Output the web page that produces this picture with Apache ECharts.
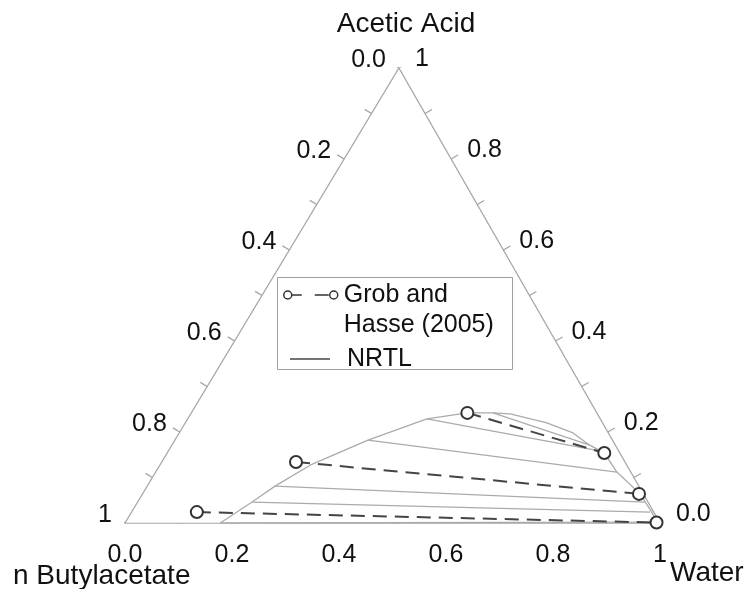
<!DOCTYPE html>
<html>
<head>
<meta charset="utf-8">
<script src="https://cdn.jsdelivr.net/npm/echarts@6/dist/echarts.min.js"></script>
<style>
html,body{margin:0;padding:0;background:#fff;}
#main{width:748px;height:589px;}
</style>
</head>
<body>
<div id="main"></div>
<script>
// ---------- data (ternary compositions: water fraction w, acetic acid fraction a) ----------
const tickValues = [0, 0.1, 0.2, 0.3, 0.4, 0.5, 0.6, 0.7, 0.8, 0.9, 1];
const labelValues = [0, 0.2, 0.4, 0.6, 0.8, 1];
const labelTexts = ['0.0', '0.2', '0.4', '0.6', '0.8', '1'];
const vertexNames = ['n Butylacetate', 'Water', 'Acetic Acid'];
const seriesNames = ['Grob and Hasse (2005)', 'NRTL'];

// experimental tie lines (Grob and Hasse 2005): organic end (left) and aqueous end (right)
const expLeftW  = [0.122, 0.251, 0.516];
const expLeftA  = [0.024, 0.134, 0.242];
const expRightW = [0.993, 0.928, 0.817];
const expRightA = [0.001, 0.064, 0.154];

// NRTL binodal curve
const binodalW = [0.178, 0.214, 0.239, 0.281, 0.361, 0.447, 0.516, 0.564, 0.597, 0.676, 0.736, 0.781, 0.817, 0.862, 0.930, 0.967, 0.996];
const binodalA = [0.000, 0.046, 0.081, 0.127, 0.182, 0.229, 0.242, 0.242, 0.240, 0.220, 0.198, 0.171, 0.154, 0.112, 0.064, 0.029, 0.000];

// NRTL tie lines
const tieLeftW  = [0.178, 0.214, 0.239, 0.361, 0.447, 0.564];
const tieLeftA  = [0.000, 0.046, 0.081, 0.182, 0.229, 0.242];
const tieRightW = [0.994, 0.969, 0.948, 0.862, 0.814, 0.781];
const tieRightA = [0.002, 0.024, 0.046, 0.112, 0.157, 0.171];

// ---------- geometry ----------
const AX = 0.512;               // horizontal position of the apex (fraction of base)
const GRID = {left: 125, right: 88, top: 68, bottom: 66};
const PXW = 748 - GRID.left - GRID.right;   // px per unit x
const PXH = 589 - GRID.top - GRID.bottom;   // px per unit y
function tern(w, a) { return [w + AX * a, a]; }
function off(p, dxPx, dyPx) { return [p[0] + dxPx / PXW, p[1] - dyPx / PXH]; }

const FONT = '"Liberation Sans", Arial, Helvetica, sans-serif';
const TXT = '#111';
const AXC = '#a4a4a4';

// axis points
const bottomPt = v => tern(v, 0);          // water
const leftPt   = v => tern(0, 1 - v);      // butylacetate (0 at apex, 1 at left)
const rightPt  = v => tern(1 - v, v);      // acetic acid (1 at apex, 0 at right)

const edges = [
  {coords: [tern(0, 0), tern(1, 0)]},
  {coords: [tern(1, 0), tern(0, 1)]},
  {coords: [tern(0, 1), tern(0, 0)]}
];

const TL = 8;
const ticks = [];
tickValues.forEach(v => {
  const b = bottomPt(v); ticks.push({coords: [b, off(b, 0, TL + 1)]});
  const l = leftPt(v);   ticks.push({coords: [l, off(l, -0.857 * TL, -0.516 * TL)]});
  const r = rightPt(v);  ticks.push({coords: [r, off(r, 0.867 * TL, -0.498 * TL)]});
});

const labBottom = labelValues.map((v, i) => ({value: bottomPt(v), label: {formatter: labelTexts[i]}}));
const labLeft   = labelValues.map((v, i) => ({value: leftPt(v), label: {formatter: labelTexts[i]}}));
const labRight  = labelValues.map((v, i) => ({value: rightPt(v), label: {formatter: labelTexts[i]}}));

const binodal = binodalW.map((w, i) => tern(w, binodalA[i]));
const nrtlTies = tieLeftW.map((w, i) => ({coords: [tern(w, tieLeftA[i]), tern(tieRightW[i], tieRightA[i])]}));
const expTies = expLeftW.map((w, i) => ({coords: [tern(w, expLeftA[i]), tern(expRightW[i], expRightA[i])]}));
const expPts = [];
expLeftW.forEach((w, i) => { expPts.push(tern(w, expLeftA[i])); expPts.push(tern(expRightW[i], expRightA[i])); });

function labelSeries(data, align, dx, dy) {
  return {
    type: 'scatter', data: data, symbolSize: 1, silent: true,
    itemStyle: {color: 'rgba(255,255,255,0)', opacity: 1}, z: 5,
    emphasis: {disabled: true},
    label: {show: true, position: 'inside', align: align, verticalAlign: 'middle',
            offset: [dx, dy], color: TXT, opacity: 1, textBorderWidth: 0,
            fontSize: 25, fontFamily: FONT}
  };
}

const chart = echarts.init(document.getElementById('main'), null, {renderer: 'canvas'});
chart.setOption({
  animation: false,
  backgroundColor: '#fff',
  grid: GRID,
  xAxis: {type: 'value', min: 0, max: 1, show: false},
  yAxis: {type: 'value', min: 0, max: 1, show: false},
  legend: [
    {
      left: 282, top: 250, padding: 0, selectedMode: false,
      itemWidth: 56, itemHeight: 10,
      data: [{
        name: seriesNames[0],
        icon: 'path://M9 5A4 4 0 1 1 1 5A4 4 0 1 1 9 5ZM9 5L19 5M32 5L46 5M55 5A4 4 0 1 1 47 5A4 4 0 1 1 55 5ZM0 0L0 0M56 10L56 10',
        itemStyle: {color: '#fff', borderColor: '#333', borderWidth: 1.5}
      }],
      formatter: n => '\n' + n.replace('and ', 'and\n'),
      textStyle: {fontSize: 25, fontFamily: FONT, color: TXT, lineHeight: 30}
    },
    {
      left: 290, top: 344, padding: 0, selectedMode: false,
      itemWidth: 40, itemHeight: 1.5,
      data: [{name: seriesNames[1], icon: 'rect', itemStyle: {color: '#444', borderWidth: 0}}],
      textStyle: {fontSize: 25, fontFamily: FONT, color: TXT, lineHeight: 30, padding: [0, 0, 0, 12]}
    }
  ],
  graphic: [
    {type: 'rect', shape: {x: 277.5, y: 277.5, width: 235, height: 92},
     style: {fill: '#fff', stroke: '#a0a0a0', lineWidth: 1}, z: -1},
    {type: 'text', style: {text: vertexNames[2], x: 406, y: 24, textAlign: 'center', textVerticalAlign: 'middle',
      font: '28px ' + FONT, fill: TXT}},
    {type: 'text', style: {text: vertexNames[0], x: 13, y: 576, textAlign: 'left', textVerticalAlign: 'middle',
      font: '28px ' + FONT, fill: TXT}},
    {type: 'text', style: {text: vertexNames[1], x: 670, y: 573, textAlign: 'left', textVerticalAlign: 'middle',
      font: '28px ' + FONT, fill: TXT}}
  ],
  series: [
    {type: 'lines', coordinateSystem: 'cartesian2d', silent: true, data: edges,
     lineStyle: {color: AXC, width: 1.3, opacity: 1}, z: 2},
    {type: 'lines', coordinateSystem: 'cartesian2d', silent: true, data: ticks,
     lineStyle: {color: AXC, width: 1.3, opacity: 1}, z: 2},
    labelSeries(labBottom, 'center', 0, 32),
    labelSeries(labLeft, 'right', -13, -8),
    labelSeries(labRight, 'left', 16, -9),
    {name: seriesNames[1], type: 'line', data: binodal, showSymbol: false, symbol: 'none',
     lineStyle: {color: '#ababab', width: 1.3}, itemStyle: {color: '#ababab'}, z: 3, silent: true},
    {name: seriesNames[1], type: 'lines', coordinateSystem: 'cartesian2d', data: nrtlTies, silent: true,
     lineStyle: {color: '#ababab', width: 1.3, opacity: 1}, z: 3},
    {name: seriesNames[0], type: 'lines', coordinateSystem: 'cartesian2d', data: expTies, silent: true,
     lineStyle: {color: '#444', width: 2, type: [14, 8], opacity: 1}, z: 4},
    {name: seriesNames[0], type: 'scatter', data: expPts, symbol: 'circle', symbolSize: 12,
     itemStyle: {color: '#fff', borderColor: '#333', borderWidth: 2, opacity: 1}, z: 6, silent: true}
  ]
});
</script>
</body>
</html>
